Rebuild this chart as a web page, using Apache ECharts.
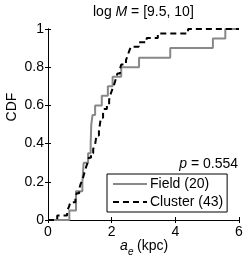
<!DOCTYPE html>
<html><head><meta charset="utf-8">
<script src="https://cdn.jsdelivr.net/npm/echarts@6/dist/echarts.min.js"></script>
<style>html,body{margin:0;padding:0;background:#fff}#c{width:249px;height:259px}</style>
</head><body><div id="c"></div>
<script>
// Sorted sample values (a_e in kpc)
const fieldValues = [0.67, 0.88, 0.88, 1.08, 1.10, 1.12, 1.26, 1.34, 1.35, 1.36, 1.40,
  1.48, 1.69, 1.88, 2.03, 2.30, 2.86, 3.84, 5.18, 5.57];
const clusterValues = [0.29, 0.60, 0.66, 0.70, 0.86, 0.90, 0.98, 1.02, 1.08, 1.12, 1.16,
  1.20, 1.25, 1.28, 1.35, 1.42, 1.48, 1.50, 1.52, 1.60, 1.62, 1.64, 1.66, 1.73, 1.75,
  1.85, 1.92, 1.95, 2.00, 2.05, 2.10, 2.14, 2.18, 2.26, 2.30, 2.45, 2.50, 2.55, 2.60,
  2.85, 3.10, 3.45, 4.40];
const seriesNames = ['Field (20)', 'Cluster (43)'];
const xTicks = [0, 2, 4, 6];
const yTicks = [0, 0.2, 0.4, 0.6, 0.8, 1];
const pValue = '0.554';

function ecdf(vals, xmin, xmax) {
  const n = vals.length;
  const pts = [[xmin, 0]];
  vals.forEach((v, i) => pts.push([v, (i + 1) / n]));
  pts.push([xmax, 1]);
  return pts;
}
const FONT = 'Liberation Sans, Arial, sans-serif';
const chart = echarts.init(document.getElementById('c'), null, {renderer: 'canvas'});
const axisCommon = {
  axisLine: {show: true, lineStyle: {color: '#000', width: 1}},
  axisTick: {show: true, inside: true, length: 3, lineStyle: {color: '#000'}},
  splitLine: {show: false}
};
chart.setOption({
  animation: false,
  backgroundColor: '#fff',
  grid: {left: 48, right: 10, top: 29, bottom: 39, show: false},
  xAxis: [
    Object.assign({type: 'value', min: xTicks[0], max: xTicks[xTicks.length - 1], interval: 2,
      axisLabel: {color: '#000', fontSize: 14, fontFamily: FONT, margin: 5}}, axisCommon),
    Object.assign({type: 'value', position: 'top', min: xTicks[0], max: xTicks[xTicks.length - 1], interval: 2,
      axisLabel: {show: false}}, axisCommon)
  ],
  yAxis: [
    Object.assign({type: 'value', min: yTicks[0], max: yTicks[yTicks.length - 1], interval: 0.2,
      axisLabel: {color: '#000', fontSize: 14, fontFamily: FONT, margin: 4}}, axisCommon),
    Object.assign({type: 'value', position: 'right', min: 0, max: 1, interval: 0.2,
      axisLabel: {show: false}}, axisCommon)
  ],
  legend: {
    left: 107, top: 174, orient: 'vertical',
    backgroundColor: '#fff', borderColor: '#000', borderWidth: 1,
    padding: [3, 4, 3, 5], itemGap: 4, itemWidth: 34, itemHeight: 14,
    itemStyle: {opacity: 0},
    textStyle: {color: '#000', fontSize: 14, fontFamily: FONT, padding: [0, 0, 0, -2]},
    data: seriesNames
  },
  series: [
    {name: seriesNames[0], type: 'line', step: 'end', symbol: 'none',
      data: ecdf(fieldValues, 0, 6), lineStyle: {color: '#888888', width: 2}, itemStyle: {color: '#888888'}},
    {name: seriesNames[1], type: 'line', step: 'end', symbol: 'none',
      data: ecdf(clusterValues, 0, 6), lineStyle: {color: '#000', width: 2, type: [6, 4]}, itemStyle: {color: '#000'}}
  ],
  graphic: [
    {type: 'text', left: 93, top: 5, style: {
      text: 'log {i|M} = [9.5, 10]', fill: '#000', fontSize: 14, fontFamily: FONT,
      rich: {i: {fontStyle: 'italic', fontSize: 14, fontFamily: FONT, fill: '#000'}}}},
    {type: 'text', x: 12, y: 107, rotation: Math.PI / 2, style: {
      text: 'CDF', fill: '#000', fontSize: 14, fontFamily: FONT, align: 'center', verticalAlign: 'middle'}},
    {type: 'text', x: 238, y: 164, style: {
      text: '{i|p} = ' + pValue, fill: '#000', fontSize: 14, fontFamily: FONT, align: 'right', verticalAlign: 'middle',
      rich: {i: {fontStyle: 'italic', fontSize: 14, fontFamily: FONT, fill: '#000'}}}},
    {type: 'text', x: 120, y: 246, style: {
      text: 'a', fill: '#000', fontSize: 14, fontFamily: FONT, fontStyle: 'italic', verticalAlign: 'middle'}},
    {type: 'text', x: 128, y: 252, style: {
      text: 'e', fill: '#000', fontSize: 10, fontFamily: FONT, fontStyle: 'italic', verticalAlign: 'middle'}},
    {type: 'text', x: 137, y: 246, style: {
      text: '(kpc)', fill: '#000', fontSize: 14, fontFamily: FONT, verticalAlign: 'middle'}}
  ]
});
</script></body></html>
